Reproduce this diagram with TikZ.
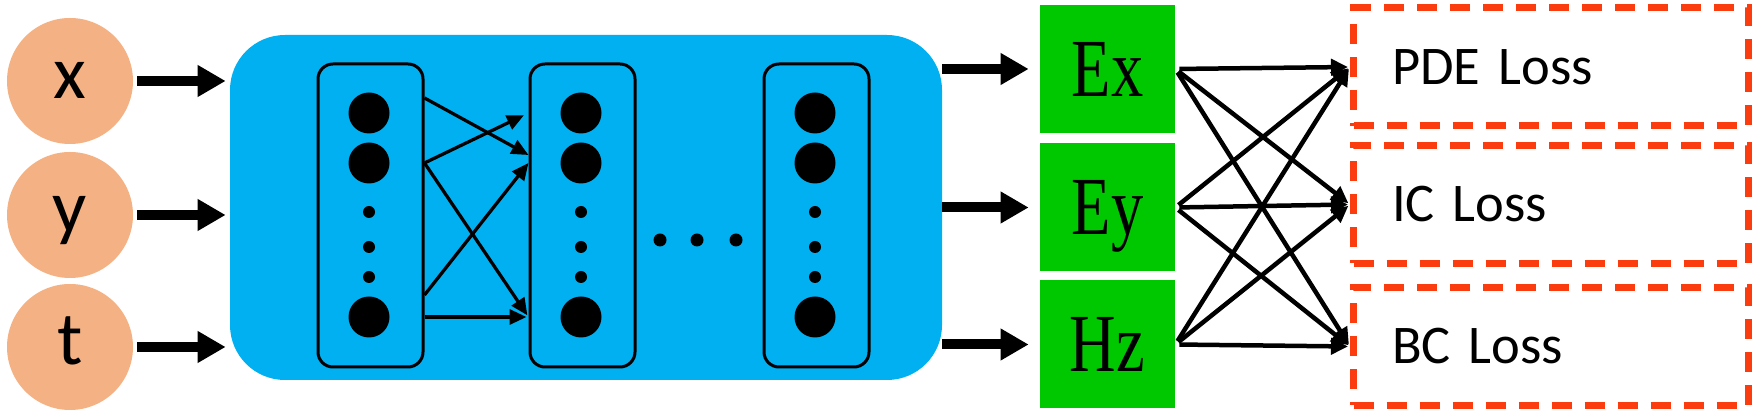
\documentclass[tikz,border=0pt]{standalone}
\usepackage{fontspec}
\setmainfont{Carlito}
\newfontfamily\serifbox{Liberation Serif}
\usetikzlibrary{arrows.meta,calc,positioning}

\definecolor{peach}{RGB}{244,177,131}
\definecolor{netblue}{RGB}{0,176,240}
\definecolor{outgreen}{RGB}{0,200,0}
\definecolor{lossred}{RGB}{250,60,15}

\begin{document}
\begin{tikzpicture}[
        invar/.style={circle, fill=peach, minimum size=2.52cm, inner sep=0pt,
            text height=20pt, text depth=0pt, font=\fontsize{43}{43}\selectfont},
        layerbox/.style={draw, line width=0.06cm, rounded corners=0.3cm,
            minimum width=2.1cm, minimum height=6.06cm},
        bigdot/.style={circle, fill=black, minimum size=0.82cm, inner sep=0pt},
        outvar/.style={fill=outgreen, minimum width=2.7cm, minimum height=2.56cm, inner sep=0pt,
            text height=31pt, text depth=0pt, font=\serifbox\fontsize{47}{47}\selectfont},
        lossbox/.style={draw=lossred, line width=0.14cm, dash pattern=on 0.4cm off 0.26cm,
            minimum height=2.36cm, text width=6.36cm, inner xsep=0.77cm, align=left,
            font=\fontsize{31}{31}\selectfont},
        fatarrow/.style={line width=0.2cm, -{Triangle[length=0.56cm,width=0.6cm]}},
        thinarrow/.style={line width=0.065cm, -{Triangle[length=0.34cm,width=0.3cm]}},
        lossarrow/.style={line width=0.09cm, -{Triangle[length=0.34cm,width=0.32cm]}}
    ]
        \useasboundingbox (0,0) rectangle (35.22,8.32);

        % the inputs
        \node[invar] (inx) at (1.4,6.7) {x};
        \node[invar] (iny) at (1.4,4.02) {y};
        \node[invar] (int) at (1.4,1.38) {t};

        % the network
        \node[fill=netblue, rounded corners=1.1cm, minimum width=14.24cm, minimum height=6.9cm] (net) at (11.72,4.17) {};

        % the layers with their neurons
        \foreach \lay/\xx in {1/7.41, 2/11.65, 3/16.33} {
            \node[layerbox] (l\lay) at (\xx,4.01) {};
            \foreach \nn/\yy in {a/2.05, b/1.05, c/-2.03}
                \node[bigdot] (l\lay\nn) at ($(l\lay.center)+(-0.03,\yy)$) {};
            \foreach \yy in {0.07,-0.63,-1.23}
                \fill ($(l\lay.center)+(-0.03,\yy)$) circle (0.12);
        }
        \foreach \hx in {13.2,13.94,14.72}
            \fill (\hx,3.52) circle (0.13);

        % the outputs
        \node[outvar] (ex) at (22.15,6.94) {\scalebox{0.78}[1]{Ex}};
        \node[outvar] (ey) at (22.15,4.17) {\scalebox{0.78}[1]{Ey}};
        \node[outvar] (hz) at (22.15,1.43) {\scalebox{0.78}[1]{Hz}};

        % the losses
        \node[lossbox] (pde) at (31.02,6.98) {PDE Loss};
        \node[lossbox] (ic) at (31.02,4.23) {IC Loss};
        \node[lossbox] (bc) at (31.02,1.39) {BC Loss};

        % draw the arrows
        \foreach \src in {inx,iny,int}
            \draw[fatarrow, shorten <=0.08cm, shorten >=0.08cm] (\src.east) -- (\src -| net.west);
        \foreach \dst in {ex,ey,hz}
            \draw[fatarrow, shorten >=0.22cm] (net.east |- \dst) -- (\dst.west);

        \draw[thinarrow] ($(l1.east |- l1a)+(0,0.3)$) -- ($(l2.west |- l2b)+(0,0.16)$);
        \draw[thinarrow, shorten >=0.1cm] (l1.east |- l1b) -- (l2.west |- l2a);
        \draw[thinarrow, shorten >=0.04cm] (l1.east |- l1b) -- (l2.west |- l2c);
        \draw[thinarrow] ($(l1.east |- l1c)+(0,0.44)$) -- (l2.west |- l2b);
        \draw[thinarrow, shorten >=0.04cm] (l1.east |- l1c) -- (l2.west |- l2c);

        \foreach \src in {ex,ey,hz}
            \foreach \dst in {pde,ic,bc}
                \draw[lossarrow, shorten <=0.08cm, shorten >=0.04cm] (\src.east) -- (\dst.west);
    \end{tikzpicture}
\end{document}
